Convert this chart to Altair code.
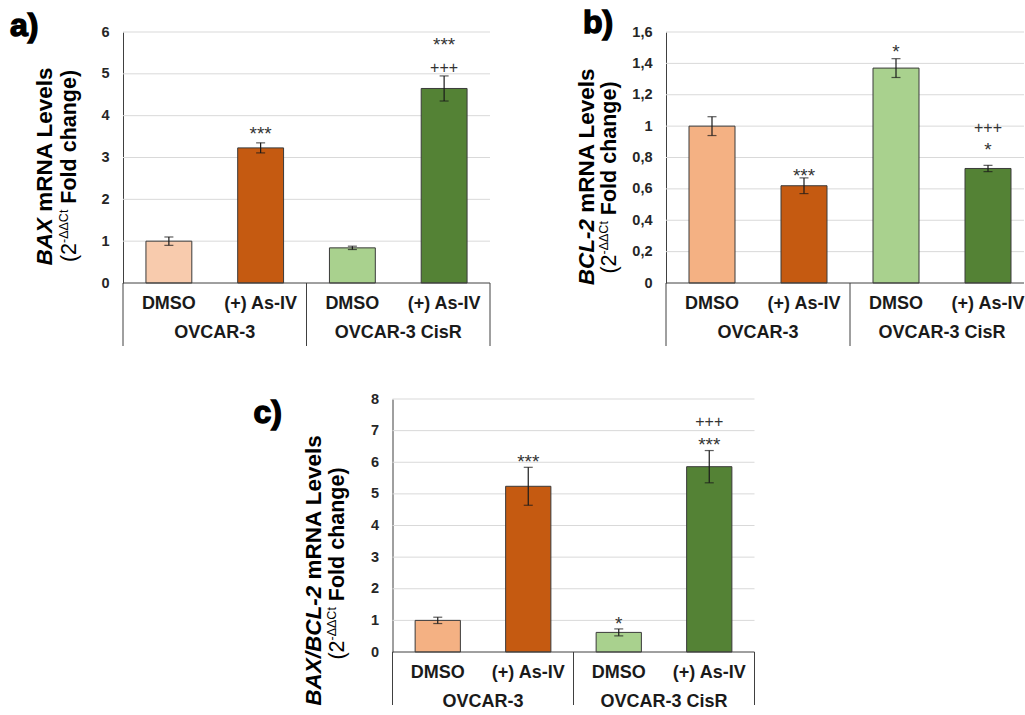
import altair as alt
import pandas as pd

FONT = "Liberation Sans"

# ---- data -------------------------------------------------------------
cells = ["OVCAR-3", "OVCAR-3", "OVCAR-3 CisR", "OVCAR-3 CisR"]
treatments = ["DMSO", "(+) As-IV", "DMSO", "(+) As-IV"]
groups = ["OVCAR-3", "OVCAR-3 CisR"]

bax_mean = [1.00, 3.23, 0.84, 4.65]
bax_err = [0.10, 0.12, 0.04, 0.30]
bcl2_mean = [1.00, 0.62, 1.37, 0.73]
bcl2_err = [0.06, 0.05, 0.06, 0.02]
ratio_mean = [1.00, 5.24, 0.62, 5.86]
ratio_err = [0.10, 0.60, 0.11, 0.51]

bax_ticks = [0, 1, 2, 3, 4, 5, 6]
bcl2_ticks = [0, 0.2, 0.4, 0.6, 0.8, 1.0, 1.2, 1.4, 1.6]
ratio_ticks = [0, 1, 2, 3, 4, 5, 6, 7, 8]

# significance symbols: (bar index, symbol)
bax_sig = [(1, "***"), (3, "+++"), (3, "***")]
bcl2_sig = [(2, "*"), (1, "***"), (3, "*"), (3, "+++")]
ratio_sig = [(1, "***"), (2, "*"), (3, "***"), (3, "+++")]

# ---- styling ----------------------------------------------------------
PALE_ORANGE_A = "#F8CBAD"
PALE_ORANGE = "#F4B183"
DARK_ORANGE = "#C55A11"
PALE_GREEN = "#A9D18E"
DARK_GREEN = "#548235"

# vertical lift (px) of each symbol above its error bar
bax_lift = [14, 8, 36]
bcl2_lift = [12, 7, 21, 38]
ratio_lift = [11, 10, 11, 29]

BOLD_W = {'B': .722, 'A': .722, 'X': .667, '/': .278, 'C': .722, 'L': .611, '-': .333,
          '2': .556, ' ': .278, 'm': .889, 'R': .722, 'N': .722, 'e': .556, 'v': .556,
          'l': .278, 's': .556, 'F': .611, 'o': .611, 'd': .611, 'c': .556, 'h': .611,
          'a': .556, 'n': .611, 'g': .611, ')': .333, '(': .333}
REG_W = {'(': .333, '2': .556, '-': .333, 'Δ': .668, 'C': .722, 't': .278, ' ': .278}


def text_w(s, size, bold):
    table = BOLD_W if bold else REG_W
    return sum(table[ch] for ch in s) * size


def one(text):
    return alt.Chart(pd.DataFrame({"t": [text]}))


def panel(mean, err, ticks, colors, sig, lifts, gene, letter, origin, width, height,
          band_w, t1_x, t2_x, t1_c, t2_c, letter_xy, seps, sep_len, comma=False):
    ox, oy = origin
    keys = [f"{c} | {t}" for c, t in zip(cells, treatments)]
    df = pd.DataFrame({
        "key": keys, "cell": cells, "treatment": treatments, "mean": mean,
        "lo": [m - e for m, e in zip(mean, err)],
        "hi": [m + e for m, e in zip(mean, err)],
    })
    x = alt.X("key:N", sort=keys, axis=None,
              scale=alt.Scale(range=[ox, ox + band_w], paddingInner=0.5, paddingOuter=0.25))
    axis = alt.Axis(values=ticks, format="~g", title=None, grid=False, ticks=False,
                    orient="left", offset=-ox,
                    domainColor="#404040", domainWidth=1,
                    labelFont=FONT, labelFontSize=14.5, labelFontWeight="bold",
                    labelColor="#262626", labelPadding=14,
                    **({"labelExpr": "replace(datum.label, '.', ',')"} if comma else {}))
    yscale = alt.Scale(domain=[0, ticks[-1]], range=[oy + height, oy], nice=False, zero=True)

    def Y(field):
        return alt.Y(field, scale=yscale, axis=axis)

    base = alt.Chart(df)
    layers = []

    # horizontal gridlines
    layers.append(alt.Chart(pd.DataFrame({"v": ticks[1:]})).mark_rule(
        color="#d9d9d9", strokeWidth=1).encode(
        y=Y("v:Q"), x=alt.value(ox), x2=alt.value(ox + width)))

    layers.append(base.mark_bar(stroke="#3a3a3a", strokeWidth=1).encode(
        x=x, y=Y("mean:Q"),
        color=alt.Color("key:N", scale=alt.Scale(domain=keys, range=colors), legend=None)))
    layers.append(base.mark_rule(color="#1a1a1a", strokeWidth=1.2).encode(
        x=x, y=Y("lo:Q"), y2="hi:Q"))
    layers.append(base.mark_tick(color="#1a1a1a", thickness=1.2, size=9).encode(x=x, y=Y("hi:Q")))
    layers.append(base.mark_tick(color="#1a1a1a", thickness=1.2, size=9).encode(x=x, y=Y("lo:Q")))

    # baseline of the value axis
    layers.append(one("").mark_rule(color="#404040", strokeWidth=1).encode(
        x=alt.value(ox), x2=alt.value(ox + width), y=alt.value(oy + height)))

    # significance symbols
    for (i, s), lift in zip(sig, lifts):
        star = "*" in s
        corr = 5.5 if star else 0.5
        d = df.iloc[[i]]
        layers.append(alt.Chart(d).mark_text(
            text=s, font=FONT, fontSize=19 if star else 16, color="#333333",
            baseline="middle", dy=-lift + corr).encode(x=x, y=Y("hi:Q")))

    # category labels
    layers.append(base.mark_text(font=FONT, fontSize=18, fontWeight="bold", color="#1a1a1a",
                                 baseline="middle").encode(
        x=x, y=alt.value(oy + height + 21), text="treatment:N"))
    for gi, g in enumerate(groups):
        layers.append(one(g).mark_text(font=FONT, fontSize=18, fontWeight="bold",
                                       color="#1a1a1a", baseline="middle").encode(
            x=alt.value(ox + band_w * (0.25 + 0.5 * gi)), y=alt.value(oy + height + 50),
            text="t:N"))
    for sx in seps:
        layers.append(one("").mark_rule(color="#404040", strokeWidth=1).encode(
            x=alt.value(ox + sx), y=alt.value(oy + height), y2=alt.value(oy + height + sep_len)))

    # rotated y title, line 1: italic gene name + "mRNA Levels"
    s1 = 22.5
    rest1 = "mRNA Levels"
    w_gene = text_w(gene + " ", s1, True)
    total1 = w_gene + text_w(rest1, s1, True)
    start1 = oy + t1_c + total1 / 2
    layers.append(one(gene).mark_text(angle=270, align="left", baseline="alphabetic",
                                      font=FONT, fontSize=s1, fontWeight="bold",
                                      fontStyle="italic", color="#000").encode(
        x=alt.value(ox + t1_x), y=alt.value(start1), text="t:N"))
    layers.append(one(rest1).mark_text(angle=270, align="left", baseline="alphabetic",
                                       font=FONT, fontSize=s1, fontWeight="bold",
                                       color="#000").encode(
        x=alt.value(ox + t1_x), y=alt.value(start1 - w_gene), text="t:N"))

    # line 2: (2^-ΔΔCt Fold change)
    s2, ss = 21.5, 12.5
    p_a, p_sup, p_b = "(2", "-ΔΔCt", "Fold change)"
    w_a = text_w(p_a, s2, False)
    w_sup = text_w(p_sup, ss, False)
    w_sp = text_w(" ", s2, True)
    total2 = w_a + w_sup + w_sp + text_w(p_b, s2, True)
    start2 = oy + t2_c + total2 / 2
    layers.append(one(p_a).mark_text(angle=270, align="left", baseline="alphabetic",
                                     font=FONT, fontSize=s2, color="#000").encode(
        x=alt.value(ox + t2_x), y=alt.value(start2), text="t:N"))
    layers.append(one(p_sup).mark_text(angle=270, align="left", baseline="alphabetic",
                                       font=FONT, fontSize=ss, color="#000").encode(
        x=alt.value(ox + t2_x - 8), y=alt.value(start2 - w_a), text="t:N"))
    layers.append(one(p_b).mark_text(angle=270, align="left", baseline="alphabetic",
                                     font=FONT, fontSize=s2, fontWeight="bold",
                                     color="#000").encode(
        x=alt.value(ox + t2_x), y=alt.value(start2 - w_a - w_sup - w_sp), text="t:N"))

    # panel letter
    layers.append(one(letter).mark_text(align="left", baseline="alphabetic", font=FONT,
                                        fontSize=32, fontWeight="bold", color="#000",
                                        stroke="#000", strokeWidth=1.4).encode(
        x=alt.value(ox + letter_xy[0]), y=alt.value(oy + letter_xy[1]), text="t:N"))

    return alt.layer(*layers)


pa = panel(bax_mean, bax_err, bax_ticks, [PALE_ORANGE_A, DARK_ORANGE, PALE_GREEN, DARK_GREEN],
           bax_sig, bax_lift, "BAX", "a)", (0, 0), 367, 251, 367,
           -71, -47, 134, 134, (-113, 4), [0, 183.5, 367], 63)
pb = panel(bcl2_mean, bcl2_err, bcl2_ticks, [PALE_ORANGE, DARK_ORANGE, PALE_GREEN, DARK_GREEN],
           bcl2_sig, bcl2_lift, "BCL-2", "b)", (543, 0), 358, 251, 368,
           -72, -50, 144.5, 145.5, (-83, 1), [0, 184], 63, comma=True)
pc = panel(ratio_mean, ratio_err, ratio_ticks, [PALE_ORANGE, DARK_ORANGE, PALE_GREEN, DARK_GREEN],
           ratio_sig, ratio_lift, "BAX/BCL-2", "c)", (269.5, 367), 362, 253, 362,
           -72, -49, 171, 164.5, (-139, 24), [0, 181, 362], 53)

chart = alt.layer(pa, pb, pc).resolve_scale(
    x="independent", y="independent", color="independent"
).properties(
    width=901, height=620,
    padding={"left": 10, "top": 7, "right": 0, "bottom": 0},
).configure(
    font=FONT, background="white"
).configure_view(stroke=None)

chart.save("out.html", embed_options={"renderer": "svg", "actions": False})
